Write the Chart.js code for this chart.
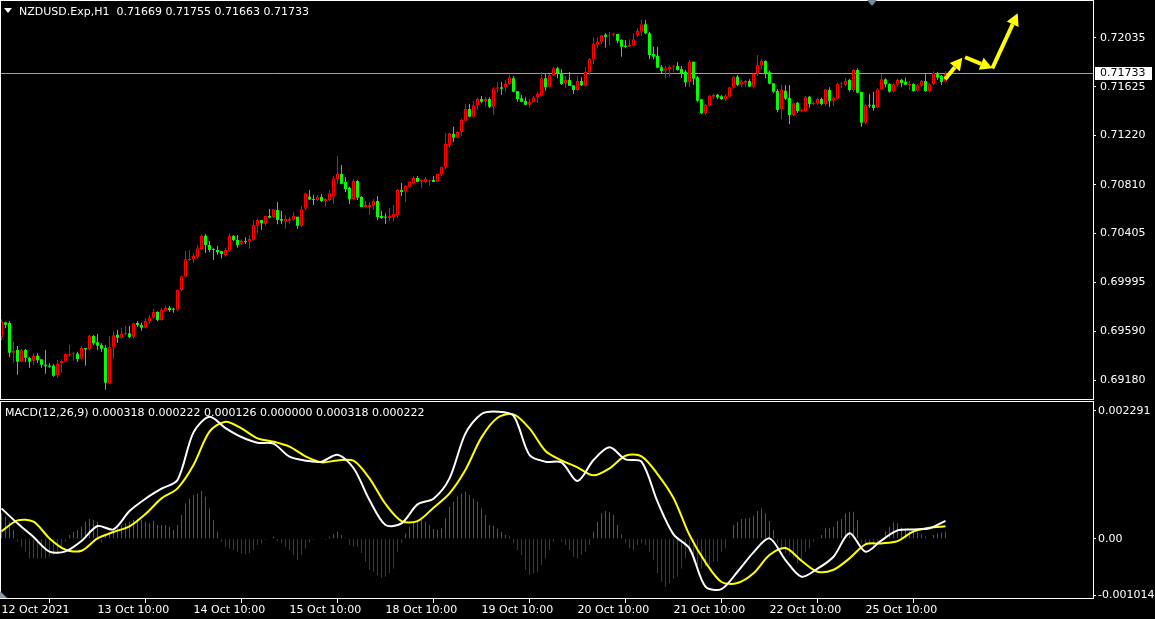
<!DOCTYPE html>
<html>
<head>
<meta charset="utf-8">
<title>NZDUSD.Exp,H1</title>
<script src="https://cdn.jsdelivr.net/npm/chart.js@4.4.1/dist/chart.umd.min.js"></script>
<style>
  html, body { margin: 0; padding: 0; background: #000; }
  #wrap { position: relative; width: 1155px; height: 619px; background: #000; overflow: hidden;
          font-family: 'DejaVu Sans', sans-serif; font-size: 11px; color: #fff; }
  canvas { position: absolute; left: 0; }
  #priceCanvas { top: 0; }
  #macdCanvas { top: 400px; }
  .txt { position: absolute; white-space: pre; line-height: 13px; }
  #symTitle { left: 19px; top: 5px; }
  #macdTitle { left: 5px; top: 406px; }
  #menuTri { position: absolute; left: 4px; top: 8px; width: 0; height: 0;
             border-left: 4.5px solid transparent; border-right: 4.5px solid transparent; border-top: 5px solid #fff; }
  #shiftTri { position: absolute; left: 867px; top: 0; width: 0; height: 0;
              border-left: 5px solid transparent; border-right: 5px solid transparent; border-top: 6px solid #778899; }
  #cornerTri { position: absolute; left: 0; top: 591px; width: 0; height: 0;
               border-bottom: 7px solid #8c9aa8; border-right: 7px solid transparent; }
</style>
</head>
<body>
<div id="wrap">
  <canvas id="priceCanvas" width="1155" height="400"></canvas>
  <canvas id="macdCanvas" width="1155" height="219"></canvas>
  <div id="menuTri"></div>
  <div class="txt" id="symTitle"></div>
  <div class="txt" id="macdTitle"></div>
  <div id="shiftTri"></div>
  <div id="cornerTri"></div>
</div>
<script>
// NZDUSD H1 bars, bar 0 = 12 Oct 2021 10:00
const open = [
  0.69538,0.69663,0.69658,0.69410,0.69433,0.69335,0.69433,0.69366,0.69343,0.69385,
  0.69355,0.69310,0.69302,0.69302,0.69222,0.69322,0.69335,0.69393,0.69397,0.69402,
  0.69360,0.69449,0.69438,0.69549,0.69497,0.69474,0.69449,0.69152,0.69455,0.69560,
  0.69535,0.69563,0.69572,0.69543,0.69658,0.69641,0.69618,0.69672,0.69702,0.69749,
  0.69683,0.69760,0.69783,0.69774,0.69768,0.69930,0.70043,0.70183,0.70188,0.70210,
  0.70274,0.70385,0.70308,0.70274,0.70266,0.70258,0.70224,0.70260,0.70383,0.70349,
  0.70318,0.70338,0.70335,0.70349,0.70468,0.70516,0.70483,0.70549,0.70538,0.70599,
  0.70524,0.70502,0.70510,0.70518,0.70543,0.70468,0.70610,0.70710,0.70691,0.70683,
  0.70708,0.70674,0.70683,0.70710,0.70858,0.70899,0.70833,0.70785,0.70691,0.70841,
  0.70708,0.70624,0.70624,0.70635,0.70674,0.70549,0.70541,0.70533,0.70538,0.70558,
  0.70766,0.70752,0.70793,0.70824,0.70866,0.70841,0.70830,0.70838,0.70849,0.70835,
  0.70893,0.70952,0.71141,0.71233,0.71202,0.71249,0.71343,0.71441,0.71377,0.71472,
  0.71524,0.71508,0.71524,0.71460,0.71610,0.71622,0.71618,0.71647,0.71697,0.71591,
  0.71530,0.71508,0.71477,0.71497,0.71538,0.71552,0.71697,0.71627,0.71722,0.71780,
  0.71733,0.71652,0.71683,0.71638,0.71599,0.71674,0.71635,0.71749,0.71855,0.71977,
  0.71997,0.72060,0.72052,0.72060,0.72066,0.72016,0.71968,0.71960,0.71968,0.72052,
  0.72085,0.72147,0.72072,0.71899,0.71883,0.71788,0.71760,0.71772,0.71793,0.71799,
  0.71774,0.71752,0.71666,0.71835,0.71705,0.71522,0.71405,0.71472,0.71543,0.71560,
  0.71547,0.71524,0.71543,0.71618,0.71710,0.71643,0.71660,0.71674,0.71627,0.71733,
  0.71802,0.71841,0.71747,0.71655,0.71591,0.71438,0.71593,0.71532,0.71391,0.71493,
  0.71422,0.71424,0.71543,0.71480,0.71485,0.71524,0.71483,0.71599,0.71510,0.71527,
  0.71647,0.71643,0.71683,0.71599,0.71766,0.71583,0.71327,0.71474,0.71477,0.71455,
  0.71605,0.71688,0.71649,0.71585,0.71643,0.71683,0.71668,0.71641,0.71649,0.71593,
  0.71635,0.71674,0.71591,0.71647,0.71738,0.71716,0.71669
];
const high = [
  0.69688,0.69668,0.69674,0.69502,0.69466,0.69441,0.69441,0.69377,0.69405,0.69405,
  0.69355,0.69433,0.69322,0.69313,0.69349,0.69355,0.69405,0.69474,0.69418,0.69418,
  0.69468,0.69449,0.69558,0.69558,0.69566,0.69488,0.69474,0.69552,0.69591,0.69599,
  0.69618,0.69633,0.69633,0.69660,0.69674,0.69660,0.69699,0.69724,0.69774,0.69755,
  0.69785,0.69802,0.69799,0.69785,0.69938,0.70052,0.70258,0.70266,0.70238,0.70308,
  0.70399,0.70399,0.70341,0.70280,0.70299,0.70258,0.70285,0.70405,0.70391,0.70391,
  0.70355,0.70372,0.70388,0.70516,0.70527,0.70516,0.70549,0.70608,0.70610,0.70666,
  0.70591,0.70555,0.70543,0.70580,0.70543,0.70633,0.70743,0.70766,0.70724,0.70724,
  0.70733,0.70697,0.70766,0.70885,0.71049,0.70974,0.70874,0.70793,0.70855,0.70849,
  0.70716,0.70674,0.70666,0.70691,0.70716,0.70591,0.70572,0.70616,0.70641,0.70774,
  0.70824,0.70805,0.70841,0.70883,0.70883,0.70852,0.70874,0.70852,0.70883,0.70902,
  0.70960,0.71241,0.71243,0.71293,0.71258,0.71360,0.71483,0.71483,0.71508,0.71535,
  0.71549,0.71543,0.71538,0.71622,0.71666,0.71666,0.71683,0.71724,0.71716,0.71591,
  0.71558,0.71538,0.71527,0.71549,0.71583,0.71749,0.71733,0.71733,0.71793,0.71793,
  0.71772,0.71716,0.71749,0.71638,0.71716,0.71705,0.71791,0.71863,0.72038,0.72038,
  0.72060,0.72072,0.72083,0.72077,0.72068,0.72022,0.72016,0.72022,0.72072,0.72113,
  0.72182,0.72182,0.72085,0.71960,0.71960,0.71808,0.71799,0.71808,0.71808,0.71833,
  0.71799,0.71766,0.71849,0.71835,0.71716,0.71522,0.71483,0.71558,0.71572,0.71566,
  0.71558,0.71566,0.71627,0.71716,0.71724,0.71683,0.71683,0.71688,0.71743,0.71891,
  0.71855,0.71847,0.71760,0.71655,0.71605,0.71641,0.71638,0.71641,0.71493,0.71499,
  0.71443,0.71549,0.71549,0.71502,0.71535,0.71535,0.71610,0.71622,0.71543,0.71660,
  0.71666,0.71699,0.71693,0.71772,0.71780,0.71583,0.71480,0.71566,0.71583,0.71613,
  0.71733,0.71697,0.71655,0.71655,0.71693,0.71693,0.71702,0.71674,0.71655,0.71647,
  0.71683,0.71738,0.71655,0.71755,0.71749,0.71724,0.71755
];
const low = [
  0.69516,0.69613,0.69372,0.69327,0.69227,0.69333,0.69333,0.69285,0.69308,0.69324,
  0.69285,0.69235,0.69285,0.69210,0.69202,0.69243,0.69330,0.69377,0.69343,0.69333,
  0.69355,0.69302,0.69430,0.69472,0.69430,0.69416,0.69102,0.69147,0.69360,0.69491,
  0.69527,0.69555,0.69533,0.69527,0.69627,0.69593,0.69613,0.69647,0.69693,0.69672,
  0.69677,0.69755,0.69752,0.69743,0.69755,0.69922,0.70038,0.70177,0.70160,0.70197,
  0.70266,0.70243,0.70249,0.70183,0.70227,0.70197,0.70210,0.70249,0.70341,0.70285,
  0.70308,0.70316,0.70277,0.70343,0.70405,0.70433,0.70468,0.70530,0.70530,0.70480,
  0.70483,0.70443,0.70485,0.70510,0.70443,0.70460,0.70599,0.70683,0.70641,0.70674,
  0.70666,0.70627,0.70674,0.70649,0.70822,0.70813,0.70749,0.70649,0.70685,0.70683,
  0.70624,0.70618,0.70558,0.70599,0.70516,0.70524,0.70483,0.70508,0.70502,0.70535,
  0.70716,0.70666,0.70785,0.70810,0.70830,0.70785,0.70822,0.70802,0.70833,0.70833,
  0.70885,0.70941,0.71118,0.71168,0.71197,0.71218,0.71338,0.71372,0.71372,0.71433,
  0.71488,0.71460,0.71449,0.71391,0.71583,0.71560,0.71585,0.71641,0.71580,0.71502,
  0.71497,0.71472,0.71452,0.71493,0.71493,0.71543,0.71591,0.71622,0.71716,0.71697,
  0.71641,0.71613,0.71633,0.71568,0.71593,0.71633,0.71627,0.71722,0.71813,0.71947,
  0.71983,0.71952,0.71972,0.72043,0.71988,0.71877,0.71952,0.71955,0.71960,0.72043,
  0.72049,0.72066,0.71855,0.71855,0.71780,0.71738,0.71697,0.71710,0.71752,0.71760,
  0.71697,0.71627,0.71622,0.71641,0.71502,0.71399,0.71391,0.71466,0.71522,0.71524,
  0.71516,0.71508,0.71535,0.71610,0.71633,0.71622,0.71627,0.71622,0.71618,0.71716,
  0.71772,0.71697,0.71647,0.71572,0.71413,0.71355,0.71516,0.71313,0.71383,0.71410,
  0.71416,0.71418,0.71452,0.71472,0.71474,0.71472,0.71466,0.71458,0.71466,0.71522,
  0.71613,0.71633,0.71585,0.71585,0.71572,0.71293,0.71316,0.71449,0.71427,0.71447,
  0.71599,0.71622,0.71577,0.71580,0.71627,0.71622,0.71638,0.71599,0.71585,0.71585,
  0.71622,0.71585,0.71577,0.71638,0.71683,0.71641,0.71663
];
const close = [
  0.69668,0.69643,0.69410,0.69427,0.69335,0.69430,0.69368,0.69335,0.69383,0.69347,
  0.69310,0.69297,0.69293,0.69218,0.69316,0.69341,0.69399,0.69399,0.69402,0.69358,
  0.69449,0.69438,0.69552,0.69488,0.69468,0.69443,0.69160,0.69458,0.69555,0.69535,
  0.69566,0.69574,0.69541,0.69655,0.69641,0.69618,0.69674,0.69705,0.69749,0.69683,
  0.69766,0.69783,0.69766,0.69768,0.69933,0.70047,0.70188,0.70188,0.70216,0.70280,
  0.70385,0.70308,0.70266,0.70266,0.70247,0.70233,0.70266,0.70383,0.70349,0.70308,
  0.70341,0.70333,0.70358,0.70474,0.70516,0.70488,0.70549,0.70535,0.70605,0.70516,
  0.70510,0.70524,0.70524,0.70549,0.70468,0.70605,0.70738,0.70688,0.70683,0.70708,
  0.70674,0.70691,0.70738,0.70863,0.70899,0.70818,0.70774,0.70688,0.70841,0.70702,
  0.70624,0.70641,0.70641,0.70674,0.70541,0.70533,0.70535,0.70549,0.70566,0.70766,
  0.70749,0.70799,0.70835,0.70866,0.70833,0.70849,0.70858,0.70847,0.70833,0.70899,
  0.70958,0.71149,0.71238,0.71202,0.71249,0.71349,0.71441,0.71377,0.71472,0.71524,
  0.71502,0.71524,0.71460,0.71613,0.71622,0.71610,0.71649,0.71705,0.71585,0.71524,
  0.71502,0.71477,0.71499,0.71538,0.71566,0.71697,0.71622,0.71724,0.71780,0.71733,
  0.71649,0.71683,0.71633,0.71599,0.71674,0.71638,0.71749,0.71858,0.71983,0.71999,
  0.72055,0.72043,0.72060,0.72072,0.72010,0.71960,0.71958,0.71974,0.72022,0.72091,
  0.72147,0.72072,0.71891,0.71877,0.71785,0.71758,0.71780,0.71793,0.71802,0.71766,
  0.71738,0.71663,0.71835,0.71693,0.71510,0.71405,0.71474,0.71552,0.71558,0.71538,
  0.71524,0.71552,0.71622,0.71710,0.71643,0.71672,0.71674,0.71627,0.71735,0.71808,
  0.71841,0.71735,0.71652,0.71585,0.71433,0.71599,0.71527,0.71391,0.71488,0.71424,
  0.71435,0.71543,0.71483,0.71493,0.71524,0.71483,0.71605,0.71508,0.71535,0.71649,
  0.71655,0.71674,0.71599,0.71766,0.71577,0.71327,0.71472,0.71468,0.71449,0.71605,
  0.71688,0.71647,0.71585,0.71647,0.71683,0.71658,0.71643,0.71649,0.71591,0.71638,
  0.71674,0.71591,0.71647,0.71743,0.71702,0.71666,0.71733
];

// MACD(12,26,9): main and signal lines read every 4th bar, histogram every bar
const macdStep = 4;
const macdMain = [
  0.000543,0.000275,0.000030,-0.000232,-0.000227,-0.000042,0.000227,0.000167,0.000495,0.000716,
  0.000895,0.001050,0.001904,0.002184,0.001981,0.001820,0.001719,0.001701,0.001468,0.001397,
  0.001379,0.001504,0.001265,0.000692,0.000245,0.000275,0.000615,0.000716,0.001080,0.001886,
  0.002232,0.002274,0.002202,0.001498,0.001379,0.001367,0.001033,0.001408,0.001635,0.001420,
  0.001379,0.000663,0.000078,-0.000173,-0.000859,-0.000901,-0.000591,-0.000244,0.000006,-0.000382,
  -0.000680,-0.000537,-0.000322,0.000096,-0.000233,-0.000030,0.000149,0.000167,0.000185,0.000318
];
const macdSignal = [
  0.000131,0.000328,0.000305,0.000006,-0.000197,-0.000215,0.000006,0.000120,0.000221,0.000442,
  0.000722,0.000901,0.001319,0.001916,0.002095,0.001975,0.001796,0.001737,0.001647,0.001474,
  0.001367,0.001402,0.001397,0.001080,0.000621,0.000316,0.000316,0.000555,0.000812,0.001235,
  0.001814,0.002166,0.002226,0.001975,0.001570,0.001402,0.001277,0.001134,0.001259,0.001486,
  0.001474,0.001158,0.000728,0.000066,-0.000423,-0.000775,-0.000793,-0.000620,-0.000292,-0.000167,
  -0.000394,-0.000590,-0.000555,-0.000352,-0.000101,-0.000084,-0.000042,0.000131,0.000197,0.000222
];
const macdHist = [
  0.000454,0.000394,0.000305,0.000155,-0.000053,-0.000143,-0.000232,-0.000352,-0.000352,-0.000352,
  -0.000352,-0.000352,-0.000322,-0.000292,-0.000232,-0.000143,-0.000053,0.000066,0.000126,0.000155,
  0.000215,0.000305,0.000352,0.000334,0.000305,-0.000083,0.000066,0.000096,0.000126,0.000185,
  0.000245,0.000275,0.000305,0.000334,0.000364,0.000334,0.000305,0.000275,0.000316,0.000245,
  0.000245,0.000245,0.000215,0.000155,0.000245,0.000424,0.000633,0.000722,0.000782,0.000811,
  0.000854,0.000752,0.000543,0.000334,0.000126,-0.000053,-0.000143,-0.000173,-0.000203,-0.000232,
  -0.000262,-0.000280,-0.000262,-0.000203,-0.000113,-0.000083,-0.000024,0.000000,0.000036,-0.000042,
  -0.000083,-0.000143,-0.000203,-0.000292,-0.000382,-0.000292,-0.000173,-0.000066,-0.000024,0.000000,
  0.000006,-0.000024,0.000036,0.000078,0.000126,0.000066,0.000006,-0.000113,-0.000143,-0.000143,
  -0.000262,-0.000412,-0.000561,-0.000590,-0.000650,-0.000698,-0.000680,-0.000620,-0.000531,-0.000232,
  -0.000083,0.000096,0.000215,0.000305,0.000334,0.000334,0.000305,0.000245,0.000173,0.000155,
  0.000185,0.000364,0.000573,0.000663,0.000752,0.000811,0.000842,0.000782,0.000716,0.000663,
  0.000543,0.000424,0.000245,0.000233,0.000185,0.000126,0.000066,0.000036,-0.000083,-0.000203,
  -0.000292,-0.000561,-0.000650,-0.000620,-0.000590,-0.000471,-0.000352,-0.000203,-0.000053,-0.000006,
  -0.000053,-0.000113,-0.000203,-0.000322,-0.000352,-0.000292,-0.000232,-0.000113,0.000126,0.000305,
  0.000454,0.000495,0.000472,0.000424,0.000245,0.000078,-0.000083,-0.000173,-0.000203,-0.000113,
  -0.000083,-0.000113,-0.000232,-0.000382,-0.000620,-0.000770,-0.000859,-0.000799,-0.000710,-0.000680,
  -0.000531,-0.000352,-0.000232,-0.000412,-0.000471,-0.000531,-0.000501,-0.000471,-0.000412,-0.000400,
  -0.000232,-0.000173,0.000000,0.000245,0.000305,0.000352,0.000364,0.000376,0.000412,0.000495,
  0.000543,0.000454,0.000316,0.000155,-0.000083,-0.000203,-0.000262,-0.000292,-0.000340,-0.000441,
  -0.000382,-0.000232,-0.000173,-0.000053,0.000018,0.000066,0.000185,0.000197,0.000215,0.000316,
  0.000352,0.000454,0.000484,0.000484,0.000334,-0.000083,-0.000083,-0.000113,-0.000173,-0.000083,
  0.000018,0.000137,0.000215,0.000293,0.000275,0.000197,0.000155,0.000137,0.000126,0.000113,
  0.000078,0.000036,0.000006,0.000066,0.000096,0.000113,0.000126
];

// axis ticks as shown by the terminal
const priceTicks = [0.72035, 0.71625, 0.71220, 0.70810, 0.70405, 0.69995, 0.69590, 0.69180];
const macdTicks = [0.002291, 0, -0.001014];
const macdTickLabels = ['0.002291', '0.00', '-0.001014'];
const timeTickBars = [0, 24, 48, 72, 96, 120, 144, 168, 192, 216];
const timeTickLabels = ['12 Oct 2021', '13 Oct 10:00', '14 Oct 10:00', '15 Oct 10:00', '18 Oct 10:00',
                        '19 Oct 10:00', '20 Oct 10:00', '21 Oct 10:00', '22 Oct 10:00', '25 Oct 10:00'];

// hand drawn yellow arrows (bar index / price)
const arrowFromBar = [235.9, 240.9, 247.7];
const arrowFromPrice = [0.71688, 0.71872, 0.71780];
const arrowToBar = [240.2, 247.7, 254.05];
const arrowToPrice = [0.71868, 0.71780, 0.72238];

const last = close.length - 1;
const FONT = { family: 'DejaVu Sans', size: 11 };
const X_MIN = -0.125, X_MAX = 272.875;   // 4 px per bar

// titles
document.getElementById('symTitle').textContent =
  'NZDUSD.Exp,H1  ' + [open[last], high[last], low[last], close[last]].map(v => v.toFixed(5)).join(' ');
const mLast = macdMain[macdMain.length - 1], sLast = macdSignal[macdSignal.length - 1];
document.getElementById('macdTitle').textContent =
  'MACD(12,26,9) ' + [mLast, sLast, macdHist[last], 0, mLast, sLast].map(v => v.toFixed(6)).join(' ');

// candle datasets
const isUp = close.map((c, i) => c >= open[i]);
const bodies = open.map((o, i) => ({ x: i, y: [o, close[i]] }));
const wicks = low.map((l, i) => ({ x: i, y: [l, high[i]] }));

const frame = {
    id: 'frame',
    afterDraw(chart) {
        const { ctx, chartArea: a } = chart;
        ctx.save();
        ctx.strokeStyle = '#ffffff';
        ctx.lineWidth = 1;
        ctx.strokeRect(a.left - 0.5, a.top - 0.5, a.right - a.left + 1, a.bottom - a.top + 1);
        ctx.restore();
    }
};

// bid line + label, arrows
const priceExtras = {
    id: 'priceExtras',
    beforeDatasetsDraw(chart) {
        const { ctx, chartArea: a, scales: { y } } = chart;
        const py = Math.floor(y.getPixelForValue(close[last])) + 0.5;
        ctx.save();
        ctx.strokeStyle = '#a0a0a0';
        ctx.lineWidth = 1;
        ctx.beginPath();
        ctx.moveTo(0, py);
        ctx.lineTo(a.right, py);
        ctx.stroke();
        ctx.restore();
    },
    afterDatasetsDraw(chart) {
        const { ctx, scales: { x, y } } = chart;
        ctx.save();
        ctx.fillStyle = '#ffff00';
        ctx.strokeStyle = '#ffff00';
        for (let k = 0; k < arrowFromBar.length; k++) {
            const x0 = x.getPixelForValue(arrowFromBar[k]), y0 = y.getPixelForValue(arrowFromPrice[k]);
            const x1 = x.getPixelForValue(arrowToBar[k]), y1 = y.getPixelForValue(arrowToPrice[k]);
            const ang = Math.atan2(y1 - y0, x1 - x0);
            const headL = 12, headW = 6.5;
            const bx = x1 - headL * Math.cos(ang), by = y1 - headL * Math.sin(ang);
            ctx.lineWidth = 4;
            ctx.beginPath();
            ctx.moveTo(x0, y0);
            ctx.lineTo(bx, by);
            ctx.stroke();
            ctx.beginPath();
            ctx.moveTo(x1, y1);
            ctx.lineTo(bx + headW * Math.sin(ang), by - headW * Math.cos(ang));
            ctx.lineTo(bx - headW * Math.sin(ang), by + headW * Math.cos(ang));
            ctx.closePath();
            ctx.fill();
        }
        ctx.restore();
    },
    afterDraw(chart) {
        const { ctx, chartArea: a, scales: { y } } = chart;
        const py = Math.floor(y.getPixelForValue(close[last]));
        ctx.save();
        ctx.fillStyle = '#ffffff';
        ctx.fillRect(a.right + 2, py - 6, 57, 13);
        ctx.fillStyle = '#000000';
        ctx.font = '11px "DejaVu Sans"';
        ctx.textBaseline = 'middle';
        ctx.fillText(close[last].toFixed(5), a.right + 7, py + 0.5);
        ctx.restore();
    }
};

function rightAxis(min, max, ticks, label, pad) {
    return {
        type: 'linear', position: 'right', min: min, max: max, beginAtZero: false,
        afterFit: s => { s.width = 62; s.paddingTop = 0; s.paddingBottom = 0; },
        afterBuildTicks: s => { s.ticks = ticks.map(v => ({ value: v })); },
        ticks: { callback: label, color: '#ffffff', padding: pad, font: FONT },
        grid: { drawOnChartArea: false, drawTicks: true, tickLength: 3, color: '#ffffff' },
        border: { display: false }
    };
}

Chart.defaults.font.family = 'DejaVu Sans';
Chart.defaults.font.size = 11;

new Chart(document.getElementById('priceCanvas'), {
    type: 'bar',
    data: {
        datasets: [
            {
                data: bodies, order: 0, grouped: false, barThickness: 3, minBarLength: 1,
                inflateAmount: 0, borderSkipped: false,
                backgroundColor: isUp.map(u => u ? '#000000' : '#00ff00'),
                borderColor: isUp.map(u => u ? '#ff0000' : '#00ff00'),
                borderWidth: isUp.map(u => u ? 1 : 0)
            },
            {
                data: wicks, order: 1, grouped: false, barThickness: 1, minBarLength: 1,
                inflateAmount: 0, borderWidth: 0,
                backgroundColor: isUp.map(u => u ? '#ff0000' : '#00ff00')
            }
        ]
    },
    options: {
        responsive: false, animation: false, events: [],
        layout: { padding: { left: 1, top: 1, right: 0, bottom: 1 } },
        plugins: { legend: { display: false }, tooltip: { enabled: false } },
        scales: {
            x: { type: 'linear', display: false, min: X_MIN, max: X_MAX, offset: false },
            y: rightAxis(0.690242, 0.723409, priceTicks, v => v.toFixed(5), 4)
        }
    },
    plugins: [priceExtras, frame]
});

new Chart(document.getElementById('macdCanvas'), {
    type: 'bar',
    data: {
        datasets: [
            {
                type: 'line', order: 0, borderColor: '#ffffff', borderWidth: 2, pointRadius: 0, tension: 0.3,
                data: macdMain.map((v, k) => ({ x: k * macdStep, y: v }))
            },
            {
                type: 'line', order: 1, borderColor: '#ffff00', borderWidth: 2, pointRadius: 0, tension: 0.3,
                data: macdSignal.map((v, k) => ({ x: k * macdStep, y: v }))
            },
            {
                order: 2, grouped: false, barThickness: 1, inflateAmount: 0, borderWidth: 0,
                data: macdHist.map((v, i) => ({ x: i, y: v })),
                backgroundColor: macdHist.map(v => v >= 0 ? '#dc143c' : '#006400')
            }
        ]
    },
    options: {
        responsive: false, animation: false, events: [],
        layout: { padding: { left: 1, top: 2, right: 0, bottom: 0 } },
        plugins: { legend: { display: false }, tooltip: { enabled: false } },
        scales: {
            x: {
                type: 'linear', position: 'bottom', min: X_MIN, max: X_MAX, offset: false,
                afterFit: s => { s.height = 21; s.paddingLeft = 0; s.paddingRight = 0; },
                afterBuildTicks: s => { s.ticks = timeTickBars.map(v => ({ value: v })); },
                ticks: { callback: (v, k) => timeTickLabels[k], align: 'start', maxRotation: 0,
                         autoSkip: false, padding: 1, color: '#ffffff', font: FONT },
                grid: { drawOnChartArea: false, drawTicks: true, tickLength: 5, color: '#ffffff' },
                border: { display: false }
            },
            y: rightAxis(-0.001061, 0.002447, macdTicks, (v, k) => macdTickLabels[k], 2)
        }
    },
    plugins: [frame]
});
</script>
</body>
</html>
